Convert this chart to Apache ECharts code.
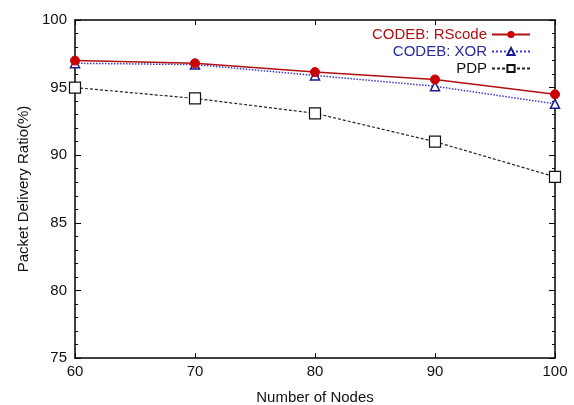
<!DOCTYPE html>
<html>
<head>
<meta charset="utf-8">
<script src="https://cdn.jsdelivr.net/npm/echarts@6/dist/echarts.min.js"></script>
<style>
  html, body { margin: 0; padding: 0; background: #fff; }
  #chart { width: 574px; height: 405px; }
</style>
</head>
<body>
<div id="chart"></div>
<script>
var nodes = [60, 70, 80, 90, 100];
var rscode = [97.0, 96.8, 96.15, 95.6, 94.5];
var xor = [96.8, 96.7, 95.9, 95.1, 93.8];
var pdp = [95.0, 94.2, 93.1, 91.0, 88.4];

var FONT = "'Liberation Sans Narrow', 'Liberation Sans', sans-serif";

function pairs(vals) {
  return nodes.map(function (n, i) { return [n, vals[i]]; });
}

var chart = echarts.init(document.getElementById("chart"));
chart.setOption({
  animation: false,
  textStyle: { fontFamily: FONT },
  grid: { left: 75, right: 19, top: 20, bottom: 47, outerBoundsMode: "none" },
  legend: {
    right: 38,
    top: 22,
    orient: "vertical",
    align: "right",
    itemWidth: 38,
    itemHeight: 9,
    itemGap: 2,
    textStyle: { fontSize: 15, fontFamily: FONT },
    data: [
      { name: "CODEB: RScode", textStyle: { color: "#b01010" } },
      { name: "CODEB: XOR", textStyle: { color: "#2a2aa0" } },
      { name: "PDP", textStyle: { color: "#111" } }
    ]
  },
  xAxis: [
    {
      type: "value", min: 60, max: 100, interval: 10,
      name: "Number of Nodes", nameLocation: "middle", nameGap: 32,
      nameTextStyle: { fontSize: 15, color: "#111" },
      axisLine: { lineStyle: { color: "#000", width: 1.5 } },
      axisTick: { inside: true, length: 5, lineStyle: { color: "#000" } },
      axisLabel: { color: "#111", fontSize: 15, margin: 6 },
      splitLine: { show: false }
    },
    {
      type: "value", min: 60, max: 100, interval: 10, position: "top",
      axisLine: { lineStyle: { color: "#000", width: 1.5 } },
      axisTick: { inside: true, length: 5, lineStyle: { color: "#000" } },
      axisLabel: { show: false },
      splitLine: { show: false }
    }
  ],
  yAxis: [
    {
      type: "value", min: 75, max: 100, interval: 5,
      name: "Packet Delivery Ratio(%)", nameLocation: "middle", nameGap: 42,
      nameTextStyle: { fontSize: 15, color: "#111" },
      axisLine: { show: true, lineStyle: { color: "#000", width: 1.5 } },
      axisTick: { inside: true, length: 6, lineStyle: { color: "#000" } },
      minorTick: { show: true, splitNumber: 5, length: 3, lineStyle: { color: "#000" } },
      axisLabel: { color: "#111", fontSize: 15, margin: 8 },
      splitLine: { show: false }
    },
    {
      type: "value", min: 75, max: 100, interval: 5, position: "right",
      axisLine: { show: true, lineStyle: { color: "#000", width: 1.5 } },
      axisTick: { inside: true, length: 6, lineStyle: { color: "#000" } },
      minorTick: { show: true, splitNumber: 5, length: 3, lineStyle: { color: "#000" } },
      axisLabel: { show: false },
      splitLine: { show: false }
    }
  ],
  series: [
    {
      name: "CODEB: RScode", type: "line", data: pairs(rscode),
      symbol: "circle", symbolSize: 9,
      lineStyle: { color: "#b01010", width: 1.5 },
      itemStyle: { color: "#cc0000", borderColor: "#cc0000" },
      z: 4
    },
    {
      name: "CODEB: XOR", type: "line", data: pairs(xor),
      symbol: "triangle", symbolSize: 9,
      lineStyle: { color: "#3a3ad0", width: 1.5, type: "dotted" },
      itemStyle: { color: "#fff", borderColor: "#1a1a90", borderWidth: 1.5 },
      z: 3
    },
    {
      name: "PDP", type: "line", data: pairs(pdp),
      symbol: "rect", symbolSize: 11,
      lineStyle: { color: "#222", width: 1.2, type: [3, 2] },
      itemStyle: { color: "#fff", borderColor: "#111", borderWidth: 1.2 },
      z: 2
    }
  ]
});
</script>
</body>
</html>
